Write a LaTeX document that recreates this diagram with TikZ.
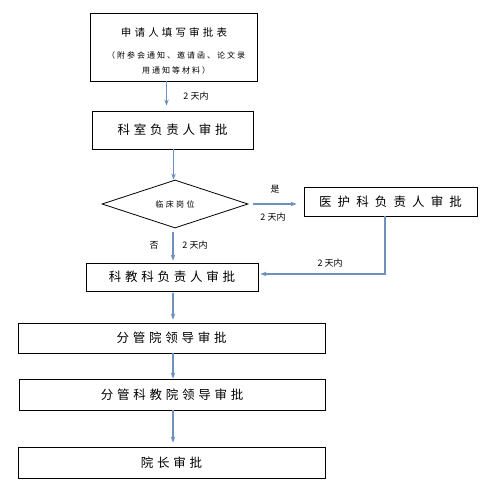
\documentclass[tikz,border=0pt]{standalone}
\usepackage{fontspec}
\newfontfamily\cjk[LetterSpace=30]{Noto Sans CJK SC}
\newfontfamily\cjkwide[LetterSpace=49]{Noto Sans CJK SC}
\newfontfamily\cjknote[LetterSpace=25]{Noto Sans CJK SC}
\newfontfamily\cjklab{Noto Sans CJK SC}
\usetikzlibrary{shapes.geometric,arrows.meta}
\definecolor{flowblue}{RGB}{110,145,190}
\tikzset{
  stepbox/.style={draw,line width=0.8pt,inner sep=0pt,minimum height=30pt,
    font=\cjk\fontsize{12.5}{14}\selectfont},
  flow/.style={draw=flowblue,line width=1.2pt,-{Stealth[length=6pt,width=4.5pt]}},
  lab/.style={inner sep=0pt,font=\cjklab\fontsize{9}{10}\selectfont}
}
\begin{document}
\begin{tikzpicture}[x=1pt,y=-1pt]
\useasboundingbox (0,0) rectangle (485,489);
% first box with its note
\node[stepbox,minimum width=167pt,minimum height=68pt] (apply) at (173.5,47) {};
\node[inner sep=0pt,font=\cjk\fontsize{10.5}{12}\selectfont] (applyt) at (174,32) {申请人填写审批表};
\node[inner sep=0pt,align=center,font=\cjknote\fontsize{8}{15}\selectfont] (applyn) at (176,62.5)
  {（附参会通知、邀请函、论文录\\用通知等材料）};
\node[stepbox,minimum width=161pt,minimum height=38pt] (office) at (172.5,130) {科室负责人审批};
\node[draw,diamond,line width=0.8pt,inner sep=0pt,minimum width=146pt,minimum height=48pt,
  aspect=3,font=\cjk\fontsize{8}{9}\selectfont] (clinic) at (175,204) {临床岗位};
\node[stepbox,minimum width=173pt,minimum height=29pt,font=\cjkwide\fontsize{12.5}{14}\selectfont]
  (nurse) at (390.5,201.5) {医护科负责人审批};
\node[stepbox,minimum width=172pt,minimum height=28pt] (edu) at (172,277) {科教科负责人审批};
\node[stepbox,minimum width=307pt] (lead) at (171.5,338) {分管院领导审批};
\node[stepbox,minimum width=306pt,minimum height=31pt] (edulead) at (172,394.5) {分管科教院领导审批};
\node[stepbox,minimum width=307pt,minimum height=31pt] (dean) at (171.5,462.5) {院长审批};
% connectors
\draw[flow,shorten >=5pt] ([xshift=-7pt]apply.south) -- ([xshift=-7pt]apply.south |- office.north);
\draw[flow] ([xshift=1pt]office.south) -- ([xshift=1pt]office.south |- clinic.north);
\draw[flow,shorten <=5pt,shorten >=7pt] (clinic.east) -- (clinic.east -| nurse.west);
\draw[flow,shorten >=2pt] ([xshift=-5.5pt]nurse.south) |- (edu.east |- 0,274);
\draw[flow,shorten <=4pt,shorten >=2pt] ([xshift=-2pt]clinic.south) -- ([xshift=-2pt]clinic.south |- edu.north);
\draw[flow,shorten <=2pt,shorten >=3pt] ([xshift=1pt]edu.south) -- ([xshift=1pt]edu.south |- lead.north);
\draw[flow] ([xshift=1.5pt]lead.south) -- ([xshift=1.5pt]lead.south |- edulead.north);
\draw[flow,shorten >=4pt] ([xshift=1pt]edulead.south) -- ([xshift=1pt]edulead.south |- dean.north);
% labels
\node[lab] (d1) at (196,96) {2 天内};
\node[lab] (yes) at (275,189) {是};
\node[lab] (d2) at (273,217) {2 天内};
\node[lab] (d3) at (330,263) {2 天内};
\node[lab] (no) at (154,245) {否};
\node[lab] (d4) at (195,245) {2 天内};
\end{tikzpicture}
\end{document}
